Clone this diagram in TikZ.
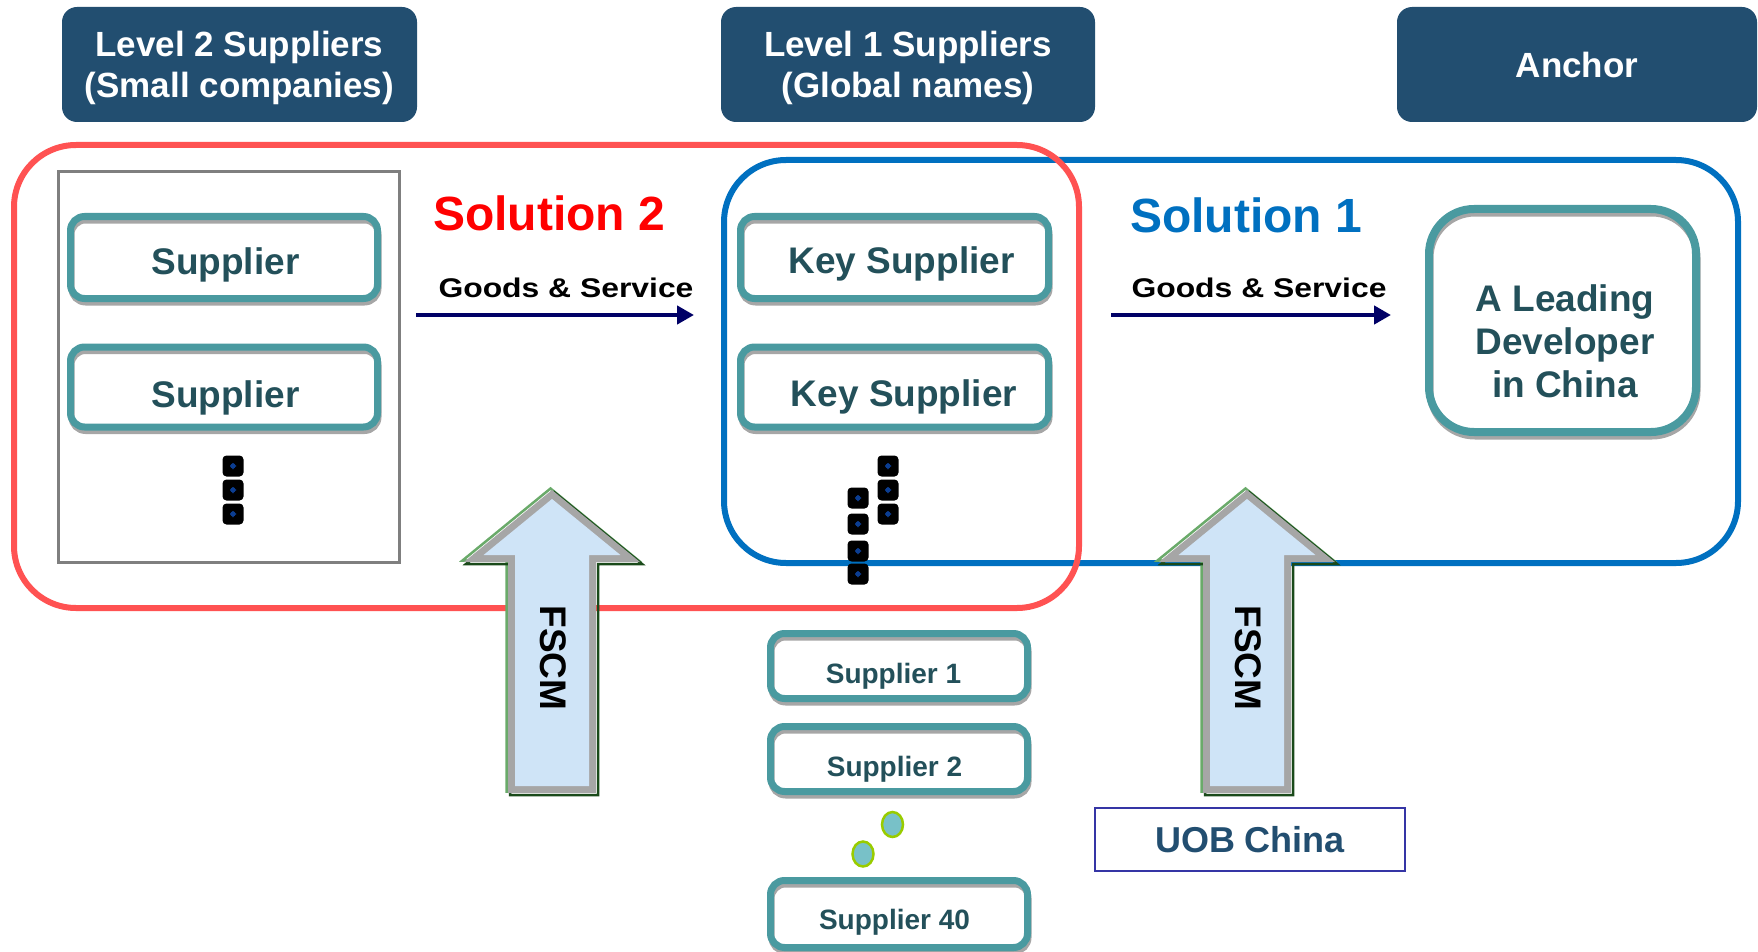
\documentclass[tikz,border=0pt]{standalone}
\usepackage{fontspec}
\setmainfont{Liberation Sans}
\newfontfamily\gsfont[FakeStretch=1.18]{Liberation Sans Bold}
\usetikzlibrary{arrows.meta,shapes.geometric}
\definecolor{hdrblue}{HTML}{224E70}
\definecolor{tealb}{HTML}{4A9AA0}
\definecolor{tealtext}{HTML}{23505A}
\definecolor{shgray}{HTML}{A6A6A6}
\definecolor{redbox}{HTML}{FF5252}
\definecolor{bluebox}{HTML}{0070C0}
\definecolor{solred}{HTML}{FF0000}
\definecolor{graybox}{HTML}{7F7F7F}
\definecolor{navyarrow}{HTML}{000066}
\definecolor{lightblue}{HTML}{CFE4F7}
\definecolor{lgreen}{HTML}{6AAA6A}
\definecolor{dgreen}{HTML}{1A4A1A}
\definecolor{dotblue}{HTML}{0B3D91}
\definecolor{elfill}{HTML}{78C1C8}
\definecolor{elborder}{HTML}{99CC00}
\definecolor{uobborder}{HTML}{3535A5}
\newcommand\lowertext[2]{\raisebox{-#1}[\height][\depth]{#2}}
\begin{document}
\begin{tikzpicture}[x=1pt,y=-1pt,
  hdr/.style={fill=hdrblue, rounded corners=15pt, text=white,
    font=\bfseries\fontsize{35}{41}\selectfont, inner sep=0pt,
    minimum height=115pt},
  tbox/.style={fill=white, rounded corners=14pt, text=tealtext, inner sep=0pt,
    font=\bfseries\fontsize{37}{43}\selectfont,
    postaction={draw=shgray, line width=6pt, transform canvas={shift={(1pt,-4pt)}}},
    postaction={draw=tealb, line width=7pt}},
  sbox/.style={tbox, font=\bfseries\fontsize{28}{32}\selectfont,
    minimum width=257pt},
  devbox/.style={fill=white, rounded corners=45pt, inner sep=0pt,
    postaction={draw=shgray, line width=7pt, transform canvas={shift={(1pt,-4pt)}}},
    postaction={draw=tealb, line width=8pt}},
  blk/.style={fill=black, rounded corners=4pt, minimum size=21pt, inner sep=0pt,
    path picture={\fill[dotblue] ([shift={(-3pt,-3pt)}]path picture bounding box.center)
      rectangle ([shift={(3pt,3pt)}]path picture bounding box.center);}},
  gdot/.style={ellipse, fill=elfill, draw=elborder, line width=2.5pt,
    minimum width=21pt, minimum height=25pt, inner sep=0pt},
  gs/.style={font=\gsfont\fontsize{27}{30}\selectfont, text=black, inner sep=0pt},
  sol/.style={font=\bfseries\fontsize{48}{52}\selectfont, inner sep=0pt},
  flow/.style={draw=navyarrow, line width=4.5pt, -{Triangle[length=17pt,width=18pt]}},
  fscm/.style={font=\bfseries\fontsize{37}{37}\selectfont, text=black, rotate=-90, inner sep=0pt}
]
\useasboundingbox (0,0) rectangle (1758,952);
\clip (0,0) rectangle (1758,952);

% headers
\node[hdr, minimum width=355pt] (h2) at (239.5,64.5)
  {\lowertext{4.5pt}{\begin{tabular}{@{}c@{}}Level 2 Suppliers\\(Small companies)\end{tabular}}};
\node[hdr, minimum width=374pt] (h1) at (908,64.5)
  {\lowertext{4.5pt}{\begin{tabular}{@{}c@{}}Level 1 Suppliers\\(Global names)\end{tabular}}};
\node[hdr, minimum width=360pt] (ha) at (1577,64.5) {Anchor};

% solution frames
\draw[bluebox, line width=6pt, rounded corners=62pt] (724,160) rectangle (1738,563);
\draw[redbox, line width=6pt, rounded corners=62pt] (14,145) rectangle (1079,608);

% level 2 container
\draw[graybox, line width=3pt] (58,172) rectangle (399,562);

% supplier boxes
\node[tbox, minimum width=307pt, minimum height=82pt] (sup1) at (224,257.5) {\lowertext{7pt}{\hspace*{3pt}Supplier}};
\node[tbox, minimum width=307pt, minimum height=80pt] (sup2) at (224,387) {\lowertext{11pt}{\hspace*{3pt}Supplier}};
\node[tbox, minimum width=308pt, minimum height=82pt] (key1) at (894.5,257.5) {\lowertext{6pt}{\hspace*{14pt}Key Supplier}};
\node[tbox, minimum width=308pt, minimum height=80pt] (key2) at (894.5,387) {\lowertext{10pt}{\hspace*{19pt}Key Supplier}};

% developer
\node[devbox, minimum width=267pt, minimum height=223pt] (dev) at (1562.5,320.5) {};
\node[text=tealtext, font=\bfseries\fontsize{37}{43}\selectfont, align=center, inner sep=0pt]
  (devtxt) at (1565,341) {A Leading\\Developer\\in China};

% dots
\node[blk] (da1) at (233,466) {};
\node[blk] (da2) at (233,490) {};
\node[blk] (da3) at (233,514) {};
\node[blk] (db1) at (888,466) {};
\node[blk] (db2) at (888,490) {};
\node[blk] (db3) at (888,514) {};
\node[blk] (dc1) at (858,498) {};
\node[blk] (dc2) at (858,524) {};
\node[blk] (dc3) at (858,551) {};
\node[blk] (dc4) at (858,574) {};

% solution titles
\node[sol, text=solred, anchor=base] (sol2) at (549,230) {Solution 2};
\node[sol, text=bluebox, anchor=base] (sol1) at (1246,233) {Solution 1};

% goods & service
\node[gs, anchor=base] (gsl) at (566,297) {Goods \& Service};
\node[gs, anchor=base] (gsr) at (1259,297) {Goods \& Service};
\coordinate (gl0) at (416,315);
\coordinate (gl1) at (694,315);
\coordinate (gr0) at (1111,315);
\coordinate (gr1) at (1391,315);
\draw[flow] (gl0) -- (gl1);
\draw[flow] (gr0) -- (gr1);

% FSCM block arrows
\foreach \t/\n in {552/l, 1247/r}{
  \draw[lgreen, line width=2.5pt, line join=miter, transform canvas={shift={(-1.5pt,1.5pt)}}]
    (\t,490) -- (\t+88,562) -- (\t+44,562) -- (\t+44,793) -- (\t-44,793) -- (\t-44,562) -- (\t-88,562) -- cycle;
  \draw[dgreen, line width=2.5pt, line join=miter, transform canvas={shift={(2pt,-2pt)}}]
    (\t,490) -- (\t+88,562) -- (\t+44,562) -- (\t+44,793) -- (\t-44,793) -- (\t-44,562) -- (\t-88,562) -- cycle;
  \fill[shgray]
    (\t,490) -- (\t+88,562) -- (\t+44,562) -- (\t+44,793) -- (\t-44,793) -- (\t-44,562) -- (\t-88,562) -- cycle;
  \fill[lightblue]
    (\t,499) -- (\t+68.4,555) -- (\t+37,555) -- (\t+37,786) -- (\t-37,786) -- (\t-37,555) -- (\t-68.4,555) -- cycle;
  \node[fscm] (fscm\n) at (\t+1,658) {FSCM};
}

% level 1 supplier list
\node[sbox, minimum height=65pt] (s1) at (899,666) {\lowertext{10pt}{Supplier 1\hspace*{11pt}}};
\node[sbox, minimum height=65pt] (s2) at (899,759) {\lowertext{10pt}{Supplier 2\hspace*{9pt}}};
\node[gdot] (e1) at (892.5,824.5) {};
\node[gdot] (e2) at (863,854) {};
\node[sbox, minimum height=67pt] (s40) at (899,914) {\lowertext{8pt}{Supplier 40\hspace*{9pt}}};

% UOB
\node[draw=uobborder, line width=2.5pt, minimum width=310pt, minimum height=63pt, inner sep=0pt,
  text=hdrblue, font=\bfseries\fontsize{36}{40}\selectfont] (uob) at (1250,839.5) {UOB China};
\end{tikzpicture}
\end{document}
